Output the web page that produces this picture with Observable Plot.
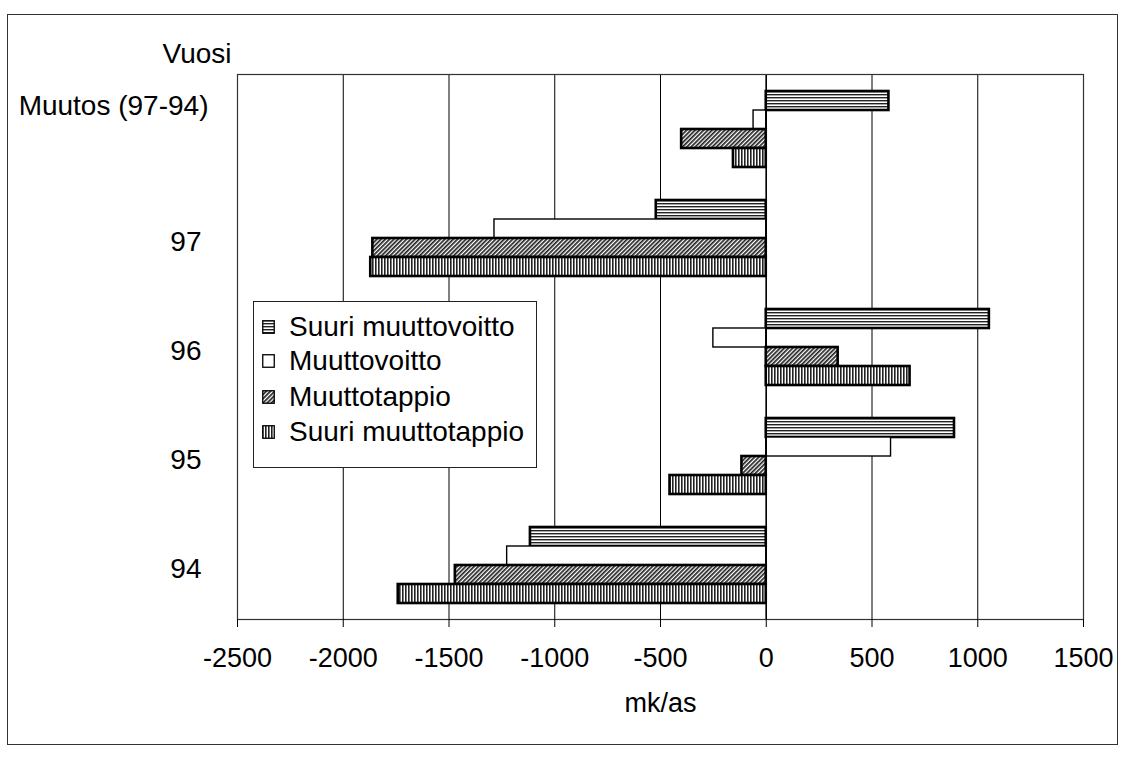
<!DOCTYPE html>
<html>
<head>
<meta charset="utf-8">
<script src="https://cdn.jsdelivr.net/npm/d3@7"></script>
<script src="https://cdn.jsdelivr.net/npm/@observablehq/plot@0.6"></script>
<style>
  body { margin: 0; background: #fff; }
  #wrap { position: relative; width: 1122px; height: 757px; overflow: hidden; font-family: "Liberation Sans", Arial, sans-serif; }
  #border { position: absolute; left: 7px; top: 14px; width: 1111px; height: 731px; border: 1.5px solid #333; box-sizing: border-box; }
  #chart { position: absolute; left: 0; top: 0; }
  #legend { position: absolute; left: 253px; top: 301px; width: 284px; height: 167px; border: 1.3px solid #222; background: #fff; box-sizing: border-box; }
  .item { position: absolute; left: 0; height: 34px; display: flex; align-items: center; font-size: 28px; color: #000; white-space: nowrap; }
  .item svg { margin-left: 8px; margin-right: 14px; }
</style>
</head>
<body>
<div id="wrap">
  <div id="border"></div>
  <div id="chart"></div>
  <div id="legend"></div>
</div>
<script>
// ---- data ----
const categories = ["Muutos (97-94)", "97", "96", "95", "94"];
const seriesNames = ["Suuri muuttovoitto", "Muuttovoitto", "Muuttotappio", "Suuri muuttotappio"];
const suuriMuuttovoitto = [580, -520, 1055, 890, -1115];
const muuttovoitto      = [-60, -1285, -250, 590, -1225];
const muuttotappio      = [-400, -1860, 340, -115, -1470];
const suuriMuuttotappio = [-155, -1870, 680, -455, -1740];
const xTicks = [-2500, -2000, -1500, -1000, -500, 0, 500, 1000, 1500];
const xLabel = "mk/as";
const yTitle = "Vuosi";

const seriesValues = [suuriMuuttovoitto, muuttovoitto, muuttotappio, suuriMuuttotappio];
const patternIds = ["pSMV", "pMV", "pMT", "pSMT"];
const data = categories.flatMap((c, i) =>
  seriesNames.map((s, j) => ({cat: c, series: s, value: seriesValues[j][i]})));

const font = '"Liberation Sans", Arial, sans-serif';

const chart = Plot.plot({
  width: 1122,
  height: 757,
  marginLeft: 237,
  marginRight: 39,
  marginTop: 73,
  marginBottom: 137,
  style: {fontFamily: font, fontSize: "27px", color: "#000", background: "transparent"},
  x: {domain: [-2500, 1500]},
  y: {domain: seriesNames, paddingInner: 0, paddingOuter: 0.8, axis: null},
  fy: {domain: categories, padding: 0, axis: null},
  color: {domain: seriesNames, range: patternIds.map(id => `url(#${id})`)},
  marks: [
    Plot.gridX(xTicks, {stroke: "#000", strokeOpacity: 1, strokeWidth: 1}),
    Plot.barX(data, {
      fy: "cat", y: "series", x: "value", fill: "series",
      stroke: "#000",
      strokeWidth: d => d.series === "Muuttovoitto" ? 1.4 : 2.6
    }),
    Plot.ruleX([0], {stroke: "#000", strokeWidth: 1.5}),
    Plot.frame({facet: "super", stroke: "#333", strokeWidth: 1.2}),
    Plot.axisX(xTicks, {
      tickSize: 8, tickPadding: 20, fontSize: 27,
      tickFormat: d => String(d), label: null, stroke: "#000"
    }),
    Plot.text(categories.slice(1), {fy: d => d, frameAnchor: "left", textAnchor: "end", dx: -36, dy: 4, fontSize: 28}),
    Plot.text(categories.slice(0, 1), {fy: d => d, frameAnchor: "left", textAnchor: "end", dx: -29, dy: -23, fontSize: 28}),
    Plot.text([xLabel], {facet: "super", frameAnchor: "bottom", dy: 92, fontSize: 27}),
    Plot.text([yTitle], {facet: "super", frameAnchor: "top-left", dx: -75, dy: -31, fontSize: 28})
  ]
});

const defs = `
<defs>
  <pattern id="pSMV" width="6" height="3" patternUnits="userSpaceOnUse">
    <rect width="6" height="3" fill="#ffffff"/>
    <rect width="6" height="1.4" fill="#222"/>
  </pattern>
  <pattern id="pMV" width="4" height="4" patternUnits="userSpaceOnUse">
    <rect width="4" height="4" fill="#ffffff"/>
  </pattern>
  <pattern id="pMT" width="3" height="6" patternUnits="userSpaceOnUse" patternTransform="rotate(45)">
    <rect width="3" height="6" fill="#ffffff"/>
    <rect width="1.7" height="6" fill="#222"/>
  </pattern>
  <pattern id="pSMT" width="3" height="6" patternUnits="userSpaceOnUse">
    <rect width="3" height="6" fill="#ffffff"/>
    <rect width="1.6" height="6" fill="#222"/>
  </pattern>
</defs>`;
d3.select(chart).insert("g", ":first-child").html(defs);
document.getElementById("chart").appendChild(chart);

// legend (HTML box inside plot area)
const legend = d3.select("#legend");
const rowTops = [8, 42, 78, 113];
seriesNames.forEach((s, i) => {
  const item = legend.append("div").attr("class", "item").style("top", rowTops[i] + "px");
  const sw = item.append("svg").attr("width", 13).attr("height", 14);
  sw.append("rect").attr("x", 0.75).attr("y", 0.75).attr("width", 11.5).attr("height", 12.5)
    .attr("fill", `url(#${patternIds[i]})`).attr("stroke", "#000").attr("stroke-width", 1.3);
  item.append("span").text(s);
});
</script>
</body>
</html>
